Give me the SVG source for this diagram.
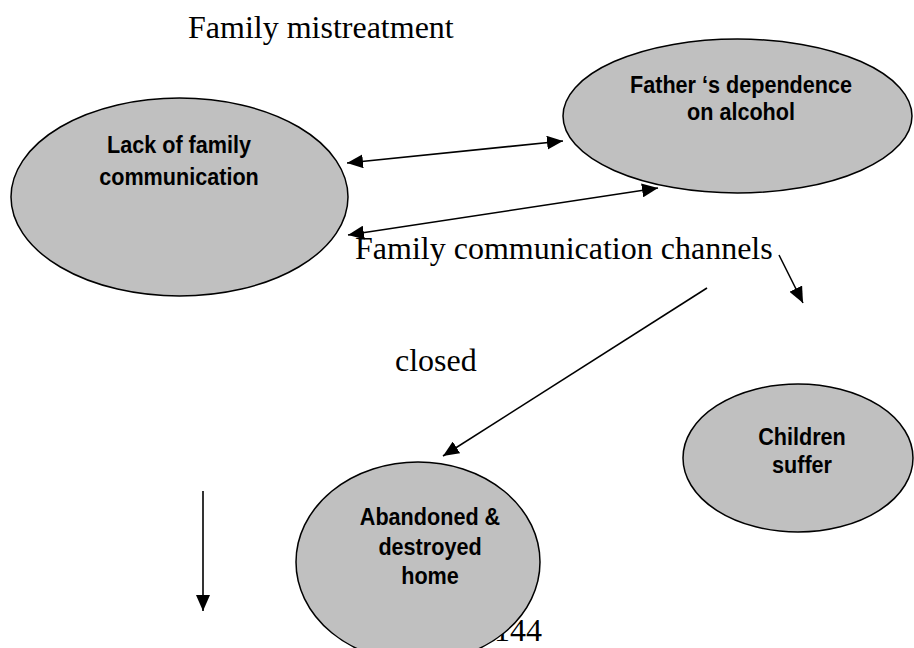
<svg xmlns="http://www.w3.org/2000/svg" width="914" height="648" viewBox="0 0 914 648">
  <style>
    .node ellipse { fill: #c0c0c0; stroke: #000; stroke-width: 1.5; }
    .node text { font-family: "Liberation Sans", Arial, sans-serif; font-weight: bold; font-size: 24px; fill: #000; text-anchor: middle; }
    .note { font-family: "Liberation Serif", "Times New Roman", serif; font-size: 32px; fill: #000; }
    .conn line { stroke: #000; stroke-width: 1.6; fill: none; }
  </style>
  <defs>
    <marker id="head" viewBox="0 0 16 14" refX="16" refY="7" markerWidth="16" markerHeight="14" markerUnits="userSpaceOnUse" orient="auto-start-reverse">
      <path d="M0,0 L16,7 L0,14 z" fill="#000"/>
    </marker>
  </defs>

  <rect width="914" height="648" fill="#fff"/>

  <!-- page number sits behind the lower ellipse -->
  <text class="note" x="494" y="641">144</text>

  <!-- free-standing captions -->
  <text class="note" x="188" y="38">Family mistreatment</text>
  <text class="note" x="355" y="259">Family communication channels</text>
  <text class="note" x="395" y="371">closed</text>

  <!-- node labels use a narrowed bold sans -->
  <g id="lack-of-communication" class="node">
    <ellipse cx="179.5" cy="197" rx="168.5" ry="99"/>
    <text transform="translate(179 153) scale(0.9 1)">Lack of family</text>
    <text transform="translate(179 185) scale(0.9 1)">communication</text>
  </g>

  <g id="father-alcohol" class="node">
    <ellipse cx="737.5" cy="116" rx="174.5" ry="77"/>
    <text transform="translate(741 93) scale(0.9 1)">Father ‘s dependence</text>
    <text transform="translate(741 120) scale(0.9 1)">on alcohol</text>
  </g>

  <g id="abandoned-home" class="node">
    <ellipse cx="418" cy="562" rx="122" ry="100"/>
    <text transform="translate(430 525) scale(0.9 1)">Abandoned &amp;</text>
    <text transform="translate(430 555) scale(0.9 1)">destroyed</text>
    <text transform="translate(430 584) scale(0.9 1)">home</text>
  </g>

  <g id="children-suffer" class="node">
    <ellipse cx="798" cy="458" rx="115" ry="74"/>
    <text transform="translate(802 445) scale(0.9 1)">Children</text>
    <text transform="translate(802 473) scale(0.9 1)">suffer</text>
  </g>

  <g id="connectors" class="conn">
    <line x1="347" y1="163" x2="563" y2="141" marker-start="url(#head)" marker-end="url(#head)"/>
    <line x1="348" y1="235" x2="658" y2="188" marker-start="url(#head)" marker-end="url(#head)"/>
    <line x1="779" y1="255" x2="803" y2="303" marker-end="url(#head)"/>
    <line x1="707" y1="288" x2="443" y2="456" marker-end="url(#head)"/>
    <line x1="203" y1="491" x2="203" y2="611" marker-end="url(#head)"/>
  </g>
</svg>
